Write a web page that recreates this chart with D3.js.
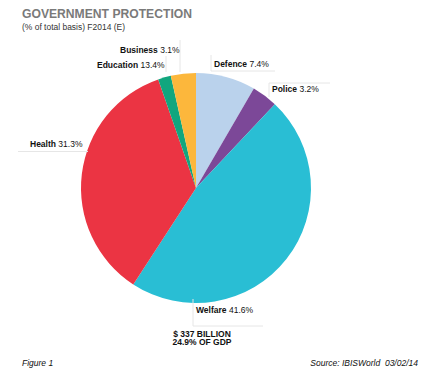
<!DOCTYPE html>
<html><head><meta charset="utf-8">
<script src="https://cdn.jsdelivr.net/npm/d3@7"></script>
<style>body{margin:0;background:#fff}svg{display:block;font-family:"Liberation Sans",Arial,sans-serif}</style>
</head><body><div id="chart"></div>
<script>
const categories = ["Defence", "Police", "Welfare", "Health", "Education", "Business"];
const values = [7.4, 3.2, 41.6, 31.3, 1.6, 3.1];
const labelPct = ["7.4%", "3.2%", "41.6%", "31.3%", "13.4%", "3.1%"];
const colors = ["#bad2ec", "#7c4898", "#29bed4", "#eb3443", "#11a67e", "#fcb73c"];
const labelPos = [[214, 67], [272, 92], [196, 313], [30, 147], [97, 68], [120, 53]];
const totalLines = ["$ 337 BILLION", "24.9% OF GDP"];

const W = 426, H = 370;
const svg = d3.select("#chart").append("svg").attr("width", W).attr("height", H);

svg.append("text").attr("x", 22).attr("y", 17.5)
  .attr("font-size", 13.5).attr("font-weight", "bold").attr("fill", "#7a7a7a")
  .attr("textLength", 170).attr("lengthAdjust", "spacingAndGlyphs")
  .text("GOVERNMENT PROTECTION");
svg.append("text").attr("x", 22).attr("y", 30)
  .attr("font-size", 8.5).attr("fill", "#333")
  .attr("textLength", 103).attr("lengthAdjust", "spacingAndGlyphs")
  .text("(% of total basis) F2014 (E)");

const cx = 196, cy = 188, r = 115;
const pie = d3.pie().sort(null).value(d => d)(values);
const arc = d3.arc().innerRadius(0).outerRadius(r);
const g = svg.append("g").attr("transform", `translate(${cx},${cy})`);
g.selectAll("path").data(pie).join("path")
  .attr("d", arc).attr("fill", (d, i) => colors[i]);

// faint label frames
const frames = [
  [[211, 55], [211, 71], [275, 71]],
  [[269, 97], [269, 83], [330, 83]],
  [[193, 299], [193, 326], [263, 326]],
  [[18, 151.5], [88, 151.5]],
  [[166, 56], [166, 72]],
  [[180, 40], [180, 72]]
];
svg.selectAll("path.frame").data(frames).join("path").attr("class", "frame")
  .attr("d", d => d3.line()(d)).attr("fill", "none").attr("stroke", "#e6e6e6").attr("stroke-width", 1);

const lab = svg.selectAll("text.lab").data(categories).join("text").attr("class", "lab")
  .attr("x", (d, i) => labelPos[i][0]).attr("y", (d, i) => labelPos[i][1])
  .attr("font-size", 8.5).attr("fill", "#111");
lab.append("tspan").attr("font-weight", "bold").text(d => d);
lab.append("tspan").text((d, i) => " " + labelPct[i]);

svg.selectAll("text.tot").data(totalLines).join("text").attr("class", "tot")
  .attr("x", 202).attr("y", (d, i) => 336.5 + i * 8.5)
  .attr("text-anchor", "middle").attr("font-size", 8.5).attr("font-weight", "bold").attr("fill", "#111")
  .text(d => d);

svg.append("text").attr("x", 22).attr("y", 366).attr("font-size", 8.5).attr("font-style", "italic").attr("fill", "#111").text("Figure 1");
svg.append("text").attr("x", 418).attr("y", 366).attr("text-anchor", "end").attr("font-size", 8.5).attr("font-style", "italic").attr("fill", "#111").text("Source: IBISWorld\u00a0 03/02/14");
</script></body></html>
